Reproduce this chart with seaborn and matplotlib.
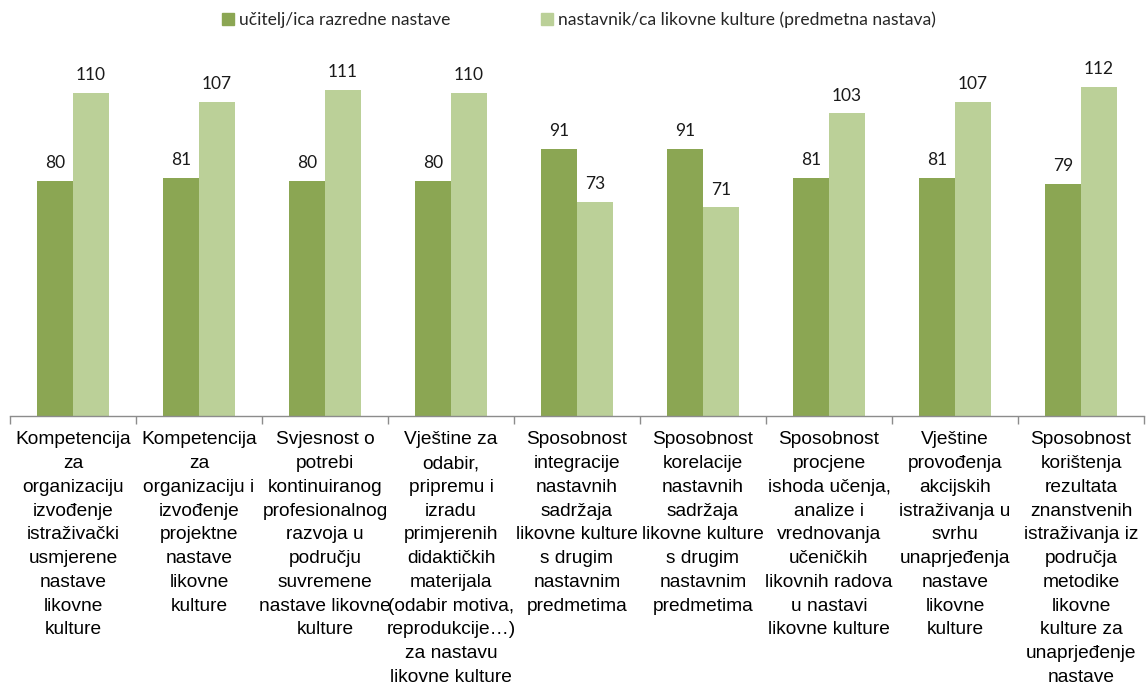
import matplotlib
matplotlib.use("Agg")
import matplotlib.pyplot as plt
import seaborn as sns
import pandas as pd

categories = [
    "Kompetencija\nza\norganizaciju\nizvođenje\nistraživački\nusmjerene\nnastave\nlikovne\nkulture",
    "Kompetencija\nza\norganizaciju i\nizvođenje\nprojektne\nnastave\nlikovne\nkulture",
    "Svjesnost o\npotrebi\nkontinuiranog\nprofesionalnog\nrazvoja u\npodručju\nsuvremene\nnastave likovne\nkulture",
    "Vještine za\nodabir,\npripremu i\nizradu\nprimjerenih\ndidaktičkih\nmaterijala\n(odabir motiva,\nreprodukcije…)\nza nastavu\nlikovne kulture",
    "Sposobnost\nintegracije\nnastavnih\nsadržaja\nlikovne kulture\ns drugim\nnastavnim\npredmetima",
    "Sposobnost\nkorelacije\nnastavnih\nsadržaja\nlikovne kulture\ns drugim\nnastavnim\npredmetima",
    "Sposobnost\nprocjene\nishoda učenja,\nanalize i\nvrednovanja\nučeničkih\nlikovnih radova\nu nastavi\nlikovne kulture",
    "Vještine\nprovođenja\nakcijskih\nistraživanja u\nsvrhu\nunaprjeđenja\nnastave\nlikovne\nkulture",
    "Sposobnost\nkorištenja\nrezultata\nznanstvenih\nistraživanja iz\npodručja\nmetodike\nlikovne\nkulture za\nunaprjeđenje\nnastave",
]
series_names = ["učitelj/ica razredne nastave",
                "nastavnik/ca likovne kulture (predmetna nastava)"]
ucitelji = [80, 81, 80, 80, 91, 91, 81, 81, 79]
nastavnici = [110, 107, 111, 110, 73, 71, 103, 107, 112]
colors = ["#8ba653", "#bbd098"]

df = pd.DataFrame({
    "kategorija": categories * 2,
    "skupina": [series_names[0]] * len(categories) + [series_names[1]] * len(categories),
    "broj": ucitelji + nastavnici,
})

sns.set_theme(style="white")
plt.rcParams["font.family"] = ["Liberation Sans", "DejaVu Sans"]

W, H = 1146, 693
fig = plt.figure(figsize=(W / 100, H / 100), dpi=100)
ax = fig.add_axes([10 / W, (H - 416) / H, 1134 / W, (416 - 40) / H])

sns.barplot(data=df, x="kategorija", y="broj", hue="skupina",
            palette=colors, width=0.571, saturation=1, gap=0,
            legend=False, ax=ax)
for p in ax.patches:
    p.set_linewidth(0)

ax.set_xlim(-0.5, len(categories) - 0.5)
ax.set_ylim(0, 128)

for cont in ax.containers:
    ax.bar_label(cont, fmt="%d", padding=7, fontsize=12.5,
                 family=["Lato", "DejaVu Sans"], color="#1a1a1a")

for s in ["top", "right", "left"]:
    ax.spines[s].set_visible(False)
ax.spines["bottom"].set_color("#8c8c8c")
ax.spines["bottom"].set_linewidth(1)
ax.set_yticks([])
ax.set_xlabel("")
ax.set_ylabel("")

ax.set_xticks(range(len(categories)))
ax.set_xticklabels(categories, fontsize=13.8, linespacing=1.52,
                   va="top", ha="center", color="#000000")
ax.set_xticks([i - 0.5 for i in range(len(categories) + 1)], minor=True)
ax.tick_params(axis="x", which="major", length=0, pad=11)
ax.tick_params(axis="x", which="minor", length=6, width=1,
               color="#8c8c8c", bottom=True)

handles = [plt.Rectangle((0, 0), 1, 1, color=c) for c in colors]
fig.legend(handles, series_names, loc="center", bbox_to_anchor=(0.505, (H - 20) / H),
           ncol=2, frameon=False, prop={"family": ["Lato", "DejaVu Sans"], "size": 12.6},
           handlelength=0.7, handleheight=0.7, handletextpad=0.25,
           columnspacing=5.2, borderaxespad=0)

fig.savefig("out.png", dpi=100)
